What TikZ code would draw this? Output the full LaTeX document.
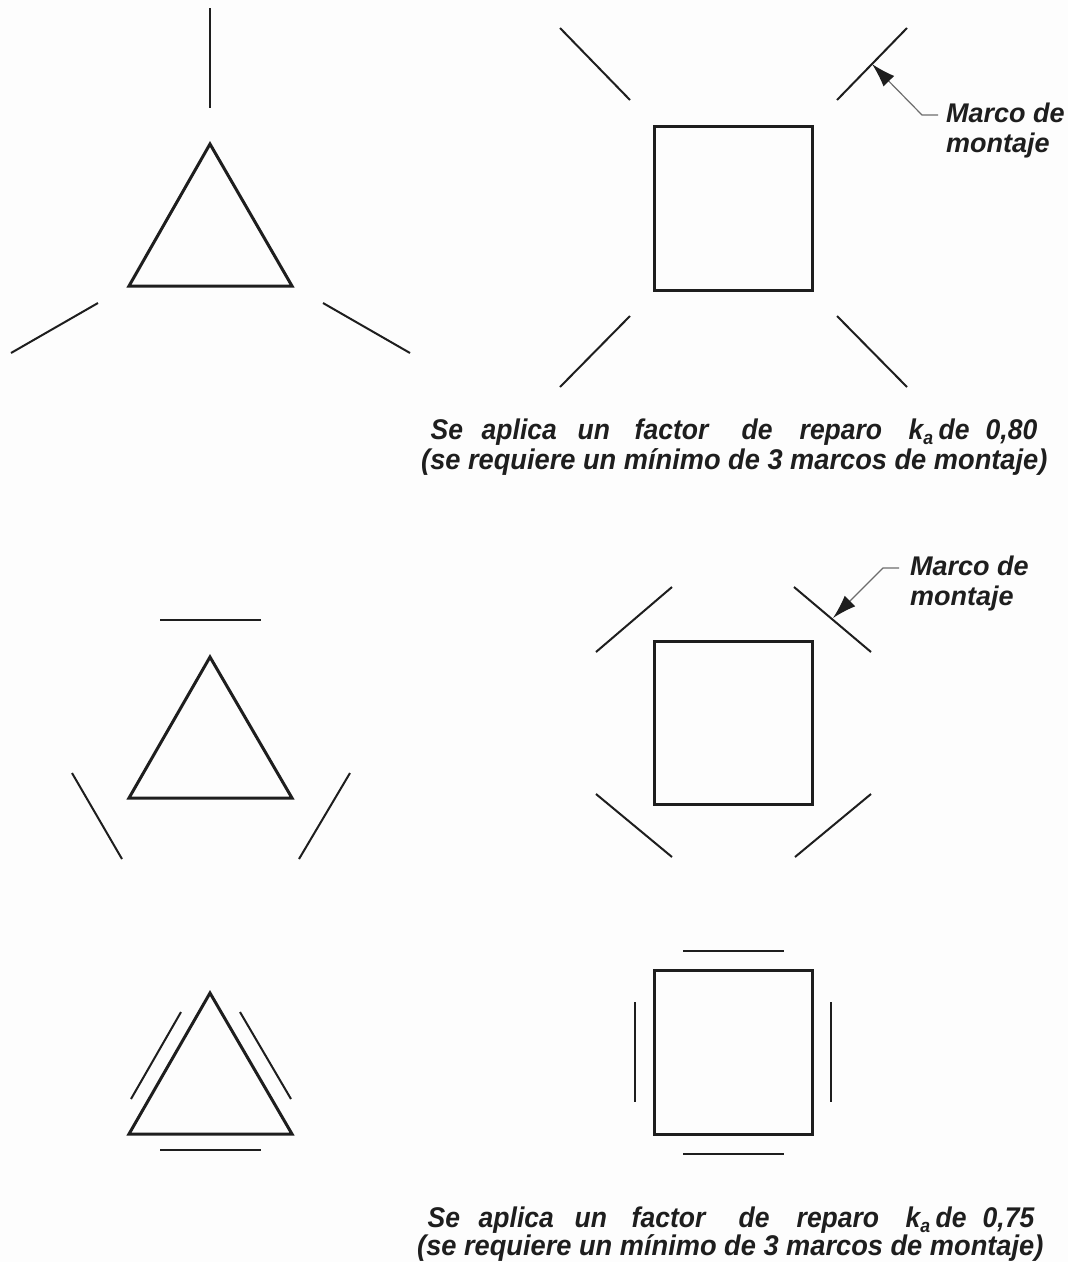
\documentclass[tikz,border=0pt]{standalone}
\usepackage{fontspec}
\setmainfont{Liberation Sans}
\usetikzlibrary{arrows.meta}
\definecolor{bgc}{HTML}{FDFDFD}
\definecolor{ink}{HTML}{1E1E1E}
\newcommand{\capw}[2]{\makebox[0pt][l]{\hspace{#1pt}\scalebox{0.93}[1]{#2}}}
\newcommand{\capl}[1]{\scalebox{0.955}[1]{#1}}
\newcommand{\lblfont}{\fontsize{27}{31}\selectfont\bfseries\itshape}
\newcommand{\capfont}{\fontsize{28.5}{32}\selectfont\bfseries\itshape}
\tikzset{x=1pt,y=-1pt,
 shape outline/.style={draw=ink,line width=3pt,line join=miter},
 frame line/.style={draw=ink,line width=2pt},
 leader/.style={draw=ink!65,line width=1.2pt},
 leader tip/.style={-{Latex[length=24pt,width=15pt,color=ink]}},
 lbl/.style={inner sep=0pt,anchor=base west,text=ink,font=\lblfont},
 captext/.style={inner sep=0pt,anchor=base west,text=ink,font=\capfont},
}
\begin{document}
\begin{tikzpicture}
\useasboundingbox[fill=bgc] (0,0) rectangle (1068,1262);
% top triangle
\draw[shape outline] (210,144) -- (129,286) -- (292,286) -- cycle;
\draw[frame line] (210,8) -- (210,108);
\draw[frame line] (11,353) -- (98,303);
\draw[frame line] (323,303) -- (410,353);
% top square
\draw[shape outline] (654,126) rectangle (812,290);
\draw[frame line] (560,28) -- (630,100);
\draw[frame line] (907,28) -- (837,100);
\draw[frame line] (630,316) -- (560,387);
\draw[frame line] (837,316) -- (907,387);
% middle triangle
\draw[shape outline] (210,657) -- (129,798) -- (292,798) -- cycle;
\draw[frame line] (160,620) -- (261,620);
\draw[frame line] (72,773) -- (122,859);
\draw[frame line] (350,773) -- (299,859);
% middle square
\draw[shape outline] (654,641) rectangle (812,804);
\draw[frame line] (672,587) -- (596,652);
\draw[frame line] (794,587) -- (871,652);
\draw[frame line] (596,794) -- (672,857);
\draw[frame line] (871,794) -- (795,857);
% bottom triangle
\draw[shape outline] (210,993) -- (129,1134) -- (292,1134) -- cycle;
\draw[frame line] (181,1012) -- (131,1099);
\draw[frame line] (240,1012) -- (291,1099);
\draw[frame line] (160,1150) -- (261,1150);
% bottom square
\draw[shape outline] (654,970) rectangle (812,1134);
\draw[frame line] (683,951) -- (784,951);
\draw[frame line] (683,1154) -- (784,1154);
\draw[frame line] (635,1002) -- (635,1102);
\draw[frame line] (831,1002) -- (831,1102);
% labels
\node[lbl] (m1a) at (946,122) {Marco de};
\node[lbl] (m1b) at (946,152) {montaje};
\node[lbl] (m2a) at (910,575) {Marco de};
\node[lbl] (m2b) at (910,605) {montaje};
\coordinate (t1) at (872,64);
\coordinate (e1) at (922,115);
\coordinate (s1) at (938,115);
\coordinate (t2) at (833,618);
\coordinate (e2) at (883,568);
\coordinate (s2) at (899,568);
\draw[leader,leader tip] (s1) -- (e1) -- (t1);
\draw[leader,leader tip] (s2) -- (e2) -- (t2);
% captions
\node[captext] (c1a) at (430,439) {\capw{0}{Se}\capw{51}{aplica}\capw{147}{un}\capw{204}{factor}\capw{311}{de}\capw{369}{reparo}\capw{478}{k\raisebox{-5pt}{\fontsize{19}{19}\selectfont a}}\capw{508}{de}\capw{555}{0,80}};
\node[captext] (c1b) at (421,469) {\capl{(se requiere un mínimo de 3 marcos de montaje)}};
\node[captext] (c2a) at (427,1227) {\capw{0}{Se}\capw{51}{aplica}\capw{147}{un}\capw{204}{factor}\capw{311}{de}\capw{369}{reparo}\capw{478}{k\raisebox{-5pt}{\fontsize{19}{19}\selectfont a}}\capw{508}{de}\capw{555}{0,75}};
\node[captext] (c2b) at (417,1255) {\capl{(se requiere un mínimo de 3 marcos de montaje)}};
\end{tikzpicture}
\end{document}
